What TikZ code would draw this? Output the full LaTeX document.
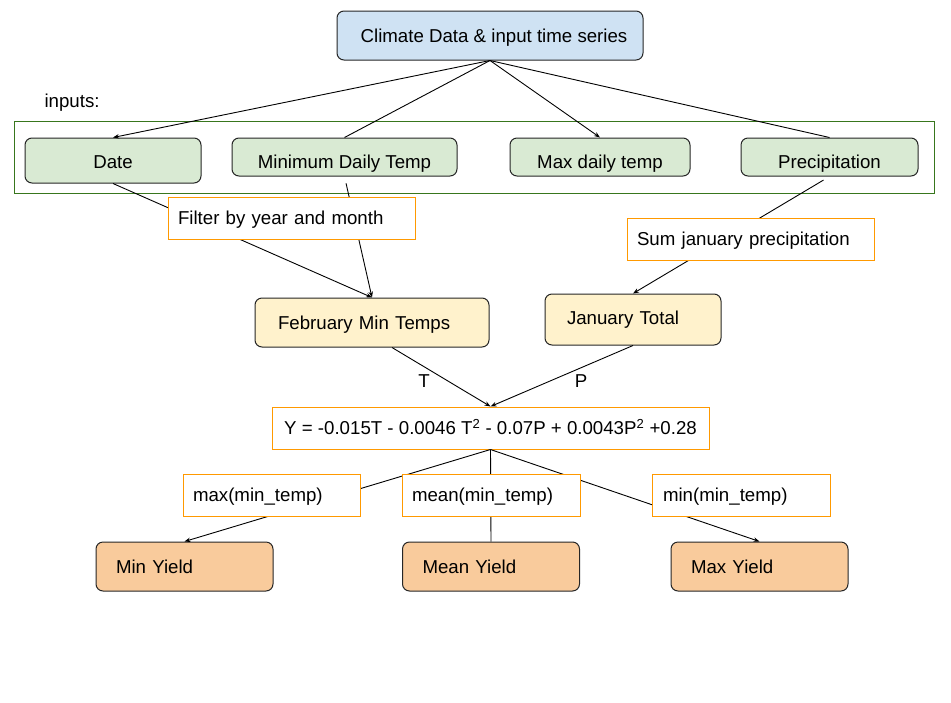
\documentclass[tikz,border=0pt]{standalone}
\usepackage{fontspec}
\setmainfont{Liberation Sans}
\usetikzlibrary{arrows.meta}
\definecolor{datablue}{HTML}{CFE2F3}
\definecolor{inputgreen}{HTML}{D9EAD3}
\definecolor{stepyellow}{HTML}{FFF2CC}
\definecolor{yieldorange}{HTML}{F9CB9C}
\definecolor{tagorange}{HTML}{FF9900}
\definecolor{framegreen}{HTML}{38761D}
\begin{document}
\begin{tikzpicture}[x=1pt, y=-1pt,
    every node/.style={font=\fontsize{18.67}{22}\selectfont},
    card/.style={draw=black!85, line width=1pt, rounded corners=7pt, inner ysep=0pt},
    tag/.style={draw=tagorange, line width=1pt, fill=white, inner ysep=0pt, minimum height=42pt, text height=14pt, text depth=1pt},
    link/.style={line width=0.9pt},
    arrowed/.style={-{Stealth[length=6pt,width=4.5pt]}}]
        \useasboundingbox (0,0) rectangle (951,702);
        % inputs
        \node[anchor=west] (inputs) at (41,103) {inputs:};
        \draw[framegreen, line width=1pt] (14,121) rectangle (934,193);
        \node[card, fill=datablue, minimum width=306pt, minimum height=49pt, text height=14pt, text depth=1pt] (climate) at (490,35.5) {\hspace{8pt}Climate Data \& input time series};
        \node[card, fill=inputgreen, minimum width=176pt, minimum height=45pt, text height=16pt, text depth=0pt] (date) at (113,160.5) {Date};
        \node[card, fill=inputgreen, minimum width=225pt, minimum height=38pt, text height=23pt, text depth=0pt] (mindaily) at (344.5,157) {Minimum Daily Temp};
        \node[card, fill=inputgreen, minimum width=180pt, minimum height=38pt, text height=23pt, text depth=0pt] (maxdaily) at (600,157) {Max daily temp};
        \node[card, fill=inputgreen, minimum width=177pt, minimum height=38pt, text height=23pt, text depth=0pt] (precip) at (829.5,157) {Precipitation};
        % steps
        \node[card, fill=stepyellow, text width=188pt, inner xsep=23pt, align=left, minimum height=49pt, text height=14pt, text depth=1pt] (feb) at (372,322.5) {February Min Temps};
        \node[card, fill=stepyellow, text width=132pt, inner xsep=22pt, align=left, minimum height=51pt] (jan) at (633,319.5) {January Total};
        \node[tag, minimum width=437pt] (eq) at (490.5,428) {Y = -0.015T - 0.0046 T\textsuperscript{2} - 0.07P + 0.0043P\textsuperscript{2} +0.28};
        % yields
        \foreach \n/\x/\t in {minyield/184.5/Min Yield, meanyield/491/Mean Yield, maxyield/759.5/Max Yield} {
            \node[card, fill=yieldorange, text width=137pt, inner xsep=20pt, align=left, minimum height=49pt] (\n) at (\x,566.5) {\t};
        }
        % connectors
        \foreach \n/\s in {date/arrowed, mindaily/, maxdaily/arrowed, precip/} {
            \draw[link, \s] (climate.south) -- (\n.north);
        }
        \draw[link, arrowed] (date.south) -- (feb.north);
        \draw[link, arrowed, shorten <=7pt] (mindaily.south) -- (feb.north);
        \draw[link, arrowed, shorten <=7pt] (precip.south) -- (jan.north);
        \draw[link, arrowed] ([xshift=20pt]feb.south) -- (eq.north);
        \draw[link, arrowed] (jan.south) -- (eq.north);
        \draw[link, arrowed] (eq.south) -- (minyield.north);
        \draw[link] (eq.south) -- (meanyield.north);
        \draw[link, arrowed] (eq.south) -- (maxyield.north);
        % labels on the connectors
        \node[tag, text width=227pt, inner xsep=10pt, align=left] (filter) at (291.5,218) {Filter by year and month};
        \node[tag, text width=227pt, inner xsep=10pt, align=left] (sumjan) at (750.5,239) {Sum january precipitation};
        \node[tag, text width=157pt, inner xsep=10pt, align=left] (maxtag) at (271.5,495) {max(min\_temp)};
        \node[tag, text width=158pt, inner xsep=10pt, align=left] (meantag) at (491,495) {mean(min\_temp)};
        \node[tag, text width=156pt, inner xsep=11pt, align=left] (mintag) at (741,495) {min(min\_temp)};
        \node (tlabel) at (424,381) {T};
        \node (plabel) at (581,381) {P};
\end{tikzpicture}
\end{document}
